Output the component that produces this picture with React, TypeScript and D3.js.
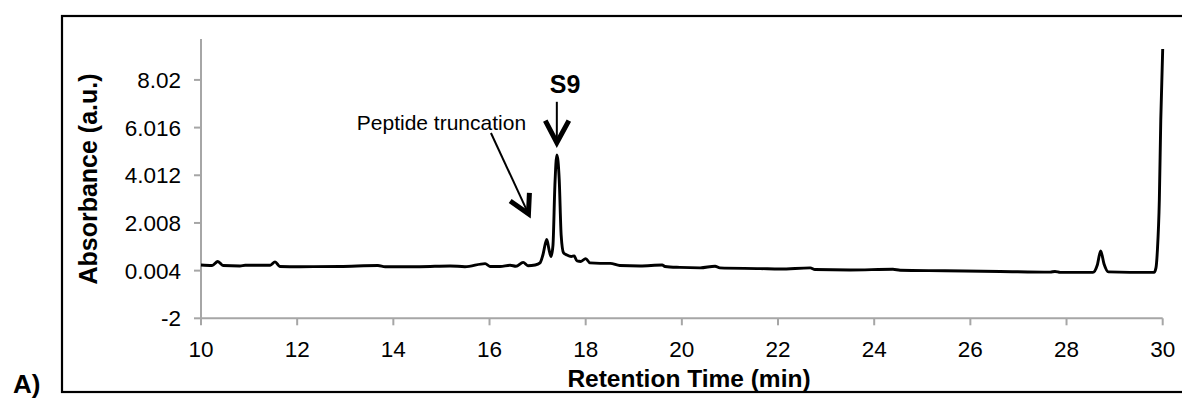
import React from "react";
import * as d3 from "d3";

// Retention time (min) and absorbance (a.u.)
const times = [
  10, 10.23, 10.35, 10.46, 10.81, 10.92, 11.44, 11.54, 11.64, 12.06, 12.89, 13.68, 13.83, 14.55,
  15.18, 15.49, 15.91, 16.01, 16.22, 16.43, 16.55, 16.7, 16.8, 16.95, 17.05, 17.11, 17.19, 17.24,
  17.28, 17.32, 17.36, 17.4, 17.45, 17.49, 17.54, 17.61, 17.7, 17.76, 17.82, 17.9, 18.0, 18.09,
  18.3, 18.51, 18.71, 19.13, 19.59, 19.65, 19.96, 20.38, 20.69, 20.79, 21.63, 22.04, 22.67, 22.77,
  23.5, 24.39, 24.54, 25.47, 26.62, 27.66, 27.76, 27.87, 28.55, 28.64, 28.71, 28.78, 28.87, 29.32,
  29.82, 29.86, 29.89, 29.93, 29.96, 30.0,
];
const absorbance = [
  0.24, 0.22, 0.39, 0.22, 0.2, 0.23, 0.23, 0.37, 0.18, 0.17, 0.18, 0.22, 0.17, 0.17,
  0.2, 0.17, 0.3, 0.18, 0.18, 0.23, 0.19, 0.35, 0.21, 0.24, 0.33, 0.66, 1.31, 0.87,
  0.6, 1.08, 3.61, 4.87, 3.82, 1.5, 0.75, 0.66, 0.6, 0.62, 0.41, 0.39, 0.51, 0.33,
  0.31, 0.31, 0.22, 0.2, 0.24, 0.18, 0.14, 0.12, 0.19, 0.12, 0.09, 0.07, 0.12, 0.05,
  0.03, 0.06, 0.02, 0.0, -0.03, -0.06, -0.03, -0.07, -0.07, 0.24, 0.83, 0.28, -0.05, -0.07,
  -0.07, 0.12, 0.87, 2.97, 6.34, 9.32,
];
const xTicks = [10, 12, 14, 16, 18, 20, 22, 24, 26, 28, 30];
const yTickValues = [-2, 0.004, 2.008, 4.012, 6.016, 8.02];
const yTickLabels = ["-2", "0.004", "2.008", "4.012", "6.016", "8.02"];
const xDomain = [10, 30];
const yDomain = [-2, 9.74];

const FONT = "'Liberation Sans', Arial, Helvetica, sans-serif";
const AXIS = "#a6a6a6";

export default function App() {
  const W = 1182;
  const H = 400;
  const left = 201;
  const right = 1162.7;
  const top = 39;
  const bottom = 318.3;

  const x = d3.scaleLinear().domain(xDomain).range([left, right]);
  const y = d3.scaleLinear().domain(yDomain).range([bottom, top]);

  const pts = times.map((t, i) => [t, absorbance[i]] as [number, number]);
  const line = d3
    .line<[number, number]>()
    .x((d) => x(d[0]))
    .y((d) => y(d[1]))
    .curve(d3.curveMonotoneX);

  // Annotation anchors in data units
  const s9 = { t: 17.4, from: 7.1, to: 5.38, armL: 17.16, armR: 17.65, armV: 6.31 };
  const trunc = { t0: 16.03, v0: 5.79, t1: 16.81, v1: 2.39, a1t: 16.43, a1v: 2.93, a2t: 16.83, a2v: 3.27 };

  return (
    <svg
      width={W}
      height={H}
      style={{ position: "absolute", left: 0, top: 0, background: "#fff" }}
    >
      {/* outer frame */}
      <rect x={62} y={16} width={1200} height={376} fill="none" stroke="#000" strokeWidth={2.2} />

      {/* axes */}
      <line x1={left} x2={left} y1={top} y2={bottom} stroke={AXIS} strokeWidth={2} />
      <line x1={left} x2={right} y1={bottom} y2={bottom} stroke={AXIS} strokeWidth={2} />
      {yTickValues.map((v, i) => (
        <g key={"y" + i}>
          <line x1={left - 7} x2={left} y1={y(v)} y2={y(v)} stroke={AXIS} strokeWidth={2} />
          <text
            x={181}
            y={y(v)}
            dy="0.36em"
            textAnchor="end"
            fontFamily={FONT}
            fontSize={22.5}
            fill="#000"
          >
            {yTickLabels[i]}
          </text>
        </g>
      ))}
      {xTicks.map((t) => (
        <g key={"x" + t}>
          <line x1={x(t)} x2={x(t)} y1={bottom} y2={bottom + 7} stroke={AXIS} strokeWidth={2} />
          <text
            x={x(t)}
            y={357}
            textAnchor="middle"
            fontFamily={FONT}
            fontSize={22.5}
            fill="#000"
          >
            {t}
          </text>
        </g>
      ))}

      {/* axis titles */}
      <text
        x={689}
        y={387}
        textAnchor="middle"
        fontFamily={FONT}
        fontWeight="bold"
        fontSize={24.5}
        fill="#000"
      >
        Retention Time (min)
      </text>
      <text
        transform={`translate(97,179) rotate(-90)`}
        textAnchor="middle"
        fontFamily={FONT}
        fontWeight="bold"
        fontSize={25}
        fill="#000"
      >
        Absorbance (a.u.)
      </text>
      <text x={13} y={393} fontFamily={FONT} fontWeight="bold" fontSize={26} fill="#000">
        A)
      </text>

      {/* trace */}
      <path d={line(pts) || ""} fill="none" stroke="#000" strokeWidth={2.9} strokeLinejoin="round" />

      {/* S9 annotation */}
      <text
        x={x(17.57)}
        y={y(7.47)}
        textAnchor="middle"
        fontFamily={FONT}
        fontWeight="bold"
        fontSize={25}
        fill="#000"
      >
        S9
      </text>
      <line x1={x(s9.t)} x2={x(s9.t)} y1={y(s9.from)} y2={y(s9.to) - 2} stroke="#000" strokeWidth={2} />
      <polyline
        points={`${x(s9.armL)},${y(s9.armV)} ${x(s9.t)},${y(s9.to)} ${x(s9.armR)},${y(s9.armV)}`}
        fill="none"
        stroke="#000"
        strokeWidth={5}
        strokeLinejoin="miter"
      />

      {/* Peptide truncation annotation */}
      <text x={x(13.24)} y={y(5.92)} fontFamily={FONT} fontSize={21} fill="#000">
        Peptide truncation
      </text>
      <line
        x1={x(trunc.t0)}
        y1={y(trunc.v0)}
        x2={x(trunc.t1)}
        y2={y(trunc.v1)}
        stroke="#000"
        strokeWidth={2}
      />
      <polyline
        points={`${x(trunc.a1t)},${y(trunc.a1v)} ${x(trunc.t1)},${y(trunc.v1)} ${x(trunc.a2t)},${y(trunc.a2v)}`}
        fill="none"
        stroke="#000"
        strokeWidth={5}
        strokeLinejoin="miter"
      />
    </svg>
  );
}
